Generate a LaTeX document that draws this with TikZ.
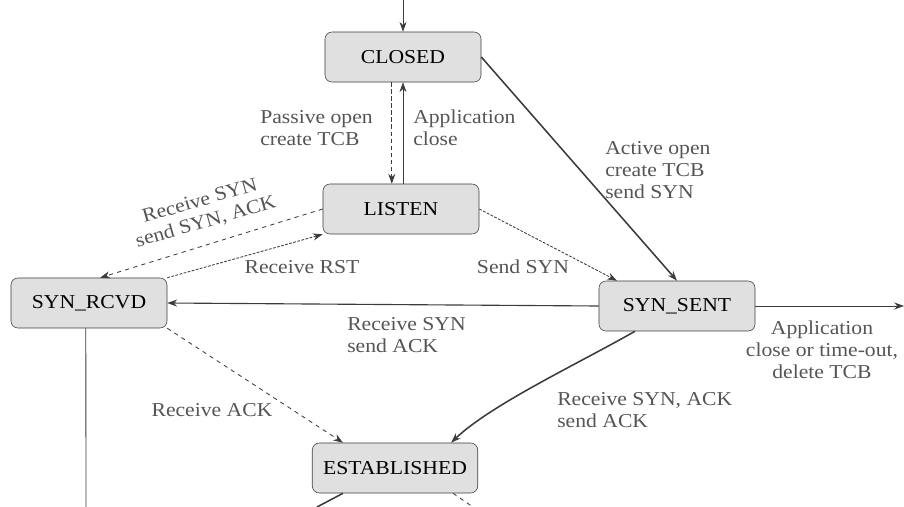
\documentclass[tikz,border=0pt]{standalone}
\usepackage{fontspec}
\setmainfont{Liberation Serif}[FakeStretch=1.1]
\usepackage{tikz}
\usetikzlibrary{positioning,arrows.meta,calc}
\definecolor{StateGray}{RGB}{224,224,224}
\definecolor{EdgeGray}{RGB}{60,60,60}
\definecolor{TextGray}{RGB}{85,85,85}

\begin{document}
\begin{tikzpicture}[x=0.025cm,y=-0.025cm,
	state/.style={rectangle,draw=EdgeGray,fill=StateGray,rounded corners=5pt,
	minimum width=3.9cm,minimum height=1.25cm,inner xsep=0.27cm,text centered,
	font=\fontsize{14}{16}\selectfont},
	lbl/.style={text=TextGray,inner sep=0pt,font=\fontsize{14}{15.5}\selectfont},
	edge/.style={draw=EdgeGray,line width=0.6pt,-{Stealth[length=7pt,width=5pt]}},
	heavy/.style={edge,line width=1.1pt}]
			\useasboundingbox (0,0) rectangle (904,507);
			\node [state, name = closed] at (403,57) {CLOSED};
			\node [state, name = listen] at (401,209) {LISTEN};
			\node [state, name = rcvd] at (89,303) {SYN\_RCVD};
			\node [state, name = sent] at (677,306) {SYN\_SENT};
			\node [state, name = estab] at (395,468) {ESTABLISHED};
			\coordinate (start) at (403,0);
			\coordinate (exit) at (904,306);
			\coordinate (rcvdout) at (86,507);
			\coordinate (establ) at (317,507);
			\coordinate (estabr) at (473,507);
			\draw [edge] (start) -- (closed.north);
			\draw [edge,densely dashed] ([xshift=-0.28cm]closed.south) -- ([xshift=-0.28cm]closed.south |- listen.north);
			\draw [edge] ([xshift=0.05cm]listen.north) -- ([xshift=0.05cm]listen.north |- closed.south);
			\draw [heavy] (closed.east) -- (sent.north);
			\draw [edge,dashed] (listen.west) -- ([xshift=0.28cm]rcvd.north);
			\draw [edge,dash pattern=on 2pt off 1pt] (rcvd.north east) -- (listen.south west);
			\draw [edge,dash pattern=on 2pt off 1pt] (listen.east) -- ([xshift=-1.5cm]sent.north);
			\draw [edge,line width=0.8pt] (sent.west) -- (rcvd.east);
			\draw [edge] (sent.east) -- (exit);
			\draw [edge,dashed] (rcvd.south east) -- ([xshift=-1.3cm]estab.north);
			\draw [heavy] ([xshift=-1.05cm]sent.south) .. controls +(-60,34) and +(40,-38) .. ([xshift=1.4cm]estab.north);
			\draw [draw=EdgeGray,line width=0.6pt] ([xshift=-0.08cm]rcvd.south) -- (rcvdout);
			\draw [draw=EdgeGray,line width=1.1pt] ([xshift=-1.3cm]estab.south) -- (establ);
			\draw [draw=EdgeGray,line width=0.6pt,dashed] ([xshift=1.45cm]estab.south) -- (estabr);
			\node [lbl,align=left,anchor=west] (passive) at (260,128) {Passive open\\create TCB};
			\node [lbl,align=left,anchor=west] (appclose) at (413,128) {Application\\close};
			\node [lbl,align=left,anchor=west] (active) at (605,170) {Active open\\create TCB\\send SYN};
			\node [lbl,align=center,rotate=16] (synack) at (203,212) {Receive SYN\\send SYN, ACK};
			\node [lbl] (rst) at (302,267) {Receive RST};
			\node [lbl] (sendsyn) at (523,267) {Send SYN};
			\node [lbl,align=left,anchor=west] (rcvsyn) at (347,335) {Receive SYN\\send ACK};
			\node [lbl,align=center] (timeout) at (822,350) {Application\\close or time-out,\\delete TCB};
			\node [lbl,align=left,anchor=west] (rcvsynack) at (557,410) {Receive SYN, ACK\\send ACK};
			\node [lbl] (rcvack) at (212,410) {Receive ACK};
		\end{tikzpicture}
\end{document}
